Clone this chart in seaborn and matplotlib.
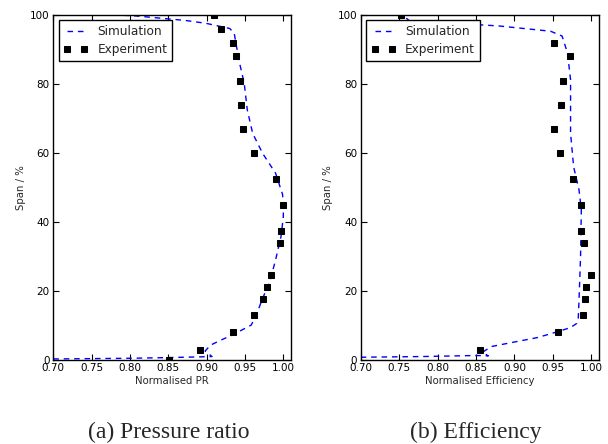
import matplotlib
matplotlib.use("Agg")
import matplotlib.pyplot as plt
import seaborn as sns
import pandas as pd

# Measured spanwise profiles (span in %)
span_exp_pr = [100, 96, 92, 88, 81, 74, 67, 60, 52.5, 45, 37.4, 33.8, 24.7, 21.3, 17.8, 12.9, 8, 2.9, 0]
pr_exp = [0.909, 0.919, 0.934, 0.938, 0.944, 0.945, 0.948, 0.962, 0.990, 1.000, 0.997, 0.996,
          0.984, 0.979, 0.973, 0.962, 0.934, 0.891, 0.851]

span_exp_eff = [100, 92, 88, 81, 74, 67, 60, 52.5, 45, 37.4, 33.8, 24.7, 21.3, 17.8, 12.9, 8, 2.9]
eff_exp = [0.753, 0.952, 0.972, 0.963, 0.960, 0.952, 0.959, 0.976, 0.986, 0.987, 0.990, 1.000,
           0.993, 0.992, 0.989, 0.957, 0.855]

# Simulated spanwise profiles, ordered hub to casing
span_sim_pr = [0.3, 0.4, 0.5, 0.7, 0.9, 1.0, 2.6, 4.3, 5.6, 7.3, 10.1, 12.6, 17.9, 22.4, 29.1,
               35.8, 41.5, 45.4, 48.0, 54.1, 59.9, 65.7, 72.5, 80.2, 86.0, 92.0, 94.7, 96.1,
               97.6, 98.4, 99.1, 99.8, 100.0]
pr_sim = [0.700, 0.750, 0.800, 0.850, 0.890, 0.907, 0.898, 0.905, 0.917, 0.934, 0.958, 0.964,
          0.973, 0.982, 0.990, 0.997, 1.000, 1.000, 0.999, 0.990, 0.973, 0.960, 0.953, 0.949,
          0.943, 0.938, 0.936, 0.930, 0.899, 0.873, 0.839, 0.804, 0.780]

span_sim_eff = [0.8, 1.0, 1.3, 1.2, 2.2, 3.9, 5.0, 6.5, 8.2, 9.4, 10.6, 12.0, 17.3, 30.0, 43.5,
                49.3, 56.0, 65.7, 81.2, 89.0, 93.9, 95.3, 96.8, 97.1, 97.4, 98.0, 99.9, 100.0]
eff_sim = [0.700, 0.780, 0.850, 0.866, 0.858, 0.870, 0.895, 0.930, 0.956, 0.973, 0.981, 0.983,
           0.984, 0.986, 0.987, 0.984, 0.977, 0.973, 0.973, 0.969, 0.962, 0.947, 0.881, 0.860,
           0.820, 0.765, 0.755, 0.700]

x_ticks = [0.70, 0.75, 0.80, 0.85, 0.90, 0.95, 1.00]
y_ticks = [0, 20, 40, 60, 80, 100]

sns.set_style("ticks", {
    "xtick.direction": "in", "ytick.direction": "in",
    "xtick.top": True, "ytick.right": True,
    "axes.edgecolor": "black",
})
plt.rcParams["font.family"] = ["DejaVu Sans"]

fig = plt.figure(figsize=(6.08, 4.44), dpi=100)

panels = [
    dict(rect=[0.0877, 0.1892, 0.3909, 0.7770], sim_x=pr_sim, sim_y=span_sim_pr,
         exp_x=pr_exp, exp_y=span_exp_pr, xlabel="Normalised PR", caption="(a) Pressure ratio"),
    dict(rect=[0.5933, 0.1892, 0.3919, 0.7770], sim_x=eff_sim, sim_y=span_sim_eff,
         exp_x=eff_exp, exp_y=span_exp_eff, xlabel="Normalised Efficiency", caption="(b) Efficiency"),
]

for p in panels:
    ax = fig.add_axes(p["rect"])
    sim = pd.DataFrame({"x": p["sim_x"], "span": p["sim_y"]})
    exp = pd.DataFrame({"x": p["exp_x"], "span": p["exp_y"]})
    sns.lineplot(data=sim, x="x", y="span", sort=False, estimator=None, ax=ax,
                 color="#0000ff", dashes=False, linewidth=1.0, label="Simulation")
    ax.lines[-1].set_dashes((4, 3.5))
    sns.lineplot(data=exp, x="x", y="span", sort=False, estimator=None, ax=ax,
                 color="black", linestyle="", marker="s", markersize=4.8,
                 markeredgecolor="black", label="Experiment")
    ax.set_xlim(0.70, 1.01)
    ax.set_ylim(0, 100)
    ax.set_xticks(x_ticks)
    ax.set_xticklabels([f"{t:.2f}" for t in x_ticks])
    ax.set_yticks(y_ticks)
    ax.tick_params(axis="both", which="both", direction="in", top=True, right=True,
                   labelsize=7.5, length=4, width=0.8, pad=2.5, colors="black")
    for s in ax.spines.values():
        s.set_visible(True)
        s.set_linewidth(1.0)
        s.set_color("black")
    ax.set_xlabel(p["xlabel"], fontsize=7.3, labelpad=2)
    ax.set_ylabel("Span / %", fontsize=7.3, labelpad=3)
    leg = ax.legend(loc="upper left", numpoints=2, handlelength=2.0, fontsize=8.7,
                    frameon=True, fancybox=False, framealpha=1.0, edgecolor="black",
                    borderpad=0.4, labelspacing=0.4, borderaxespad=0.45)
    leg.get_frame().set_linewidth(1.0)
    pos = ax.get_position()
    fig.text((pos.x0 + pos.x1) / 2 - 0.006, 0.0135, p["caption"], ha="center", va="baseline",
             fontsize=17, family="Liberation Serif")

fig.savefig("out.png", dpi=100)
